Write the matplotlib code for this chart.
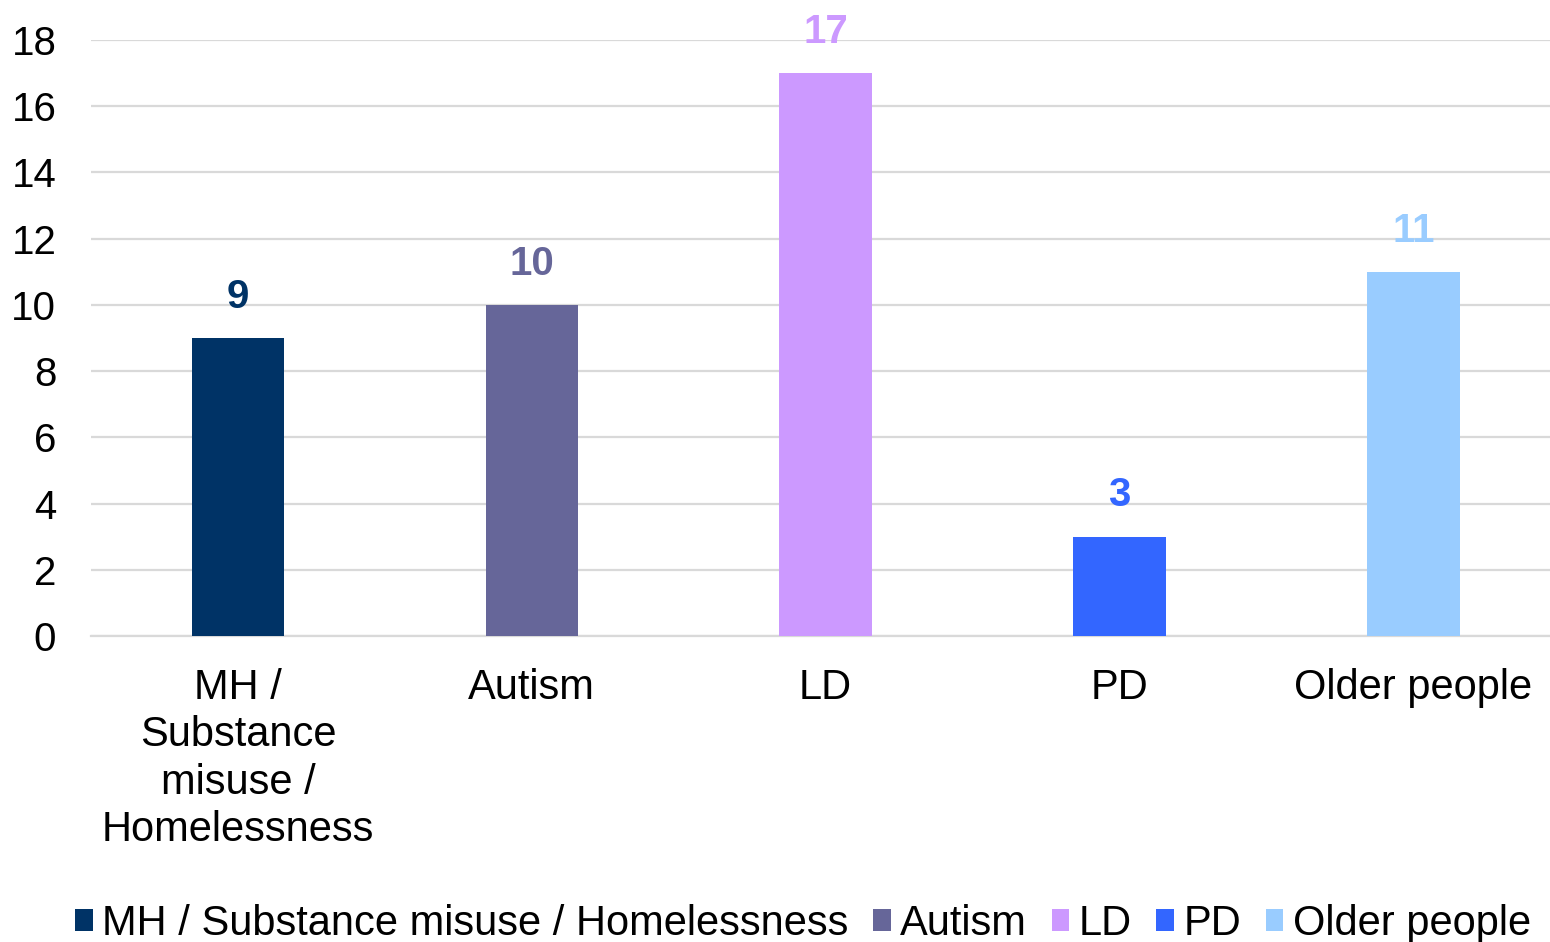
import matplotlib
matplotlib.use('Agg')
import matplotlib.pyplot as plt
from matplotlib.patches import Patch

# categories and counts
categories = ['MH / Substance misuse / Homelessness', 'Autism', 'LD', 'PD', 'Older people']
tick_labels = ['MH /\nSubstance\nmisuse /\nHomelessness', 'Autism', 'LD', 'PD', 'Older people']
counts = [9, 10, 17, 3, 11]
colors = ['#003366', '#666699', '#CC99FF', '#3366FF', '#99CCFF']

plt.rcParams['font.family'] = ['Liberation Sans', 'DejaVu Sans']

fig = plt.figure(figsize=(15.5, 9.42), dpi=100)
ax = fig.add_axes([0.0587, 0.3248, 0.948, 0.6327])

x = range(len(categories))
bars = ax.bar(x, counts, width=0.315, color=colors, zorder=3)
for b, v, c in zip(bars, counts, colors):
    ax.annotate(str(v), (b.get_x() + b.get_width() / 2, v), xytext=(0, 16),
                textcoords='offset points', ha='center', va='bottom',
                fontsize=29, fontweight='bold', color=c, zorder=4,
                annotation_clip=False)

ax.set_xlim(-0.5, len(categories) - 0.5)
ax.set_ylim(0, 18)
ax.set_yticks(range(0, 19, 2))
ax.yaxis.grid(True, color='#d9d9d9', lw=1.6, zorder=0)
for s in ['top', 'right', 'left']:
    ax.spines[s].set_visible(False)
ax.spines['bottom'].set_color('#d9d9d9')
ax.spines['bottom'].set_linewidth(1.6)
ax.tick_params(axis='both', length=0, labelsize=29, colors='black')
ax.tick_params(axis='y', pad=25)
ax.tick_params(axis='x', labelsize=30, pad=23)
ax.set_xticks(list(x))
ax.set_xticklabels(tick_labels, linespacing=1.24)

handles = [Patch(facecolor=c, label=l) for c, l in zip(colors, categories)]
fig.legend(handles=handles, loc='center', bbox_to_anchor=(0.518, 0.019), ncol=5,
           frameon=False, fontsize=30, handlelength=0.42, handleheight=0.42,
           handletextpad=0.22, columnspacing=0.6, borderaxespad=0)

fig.savefig('out.png', dpi=100)
